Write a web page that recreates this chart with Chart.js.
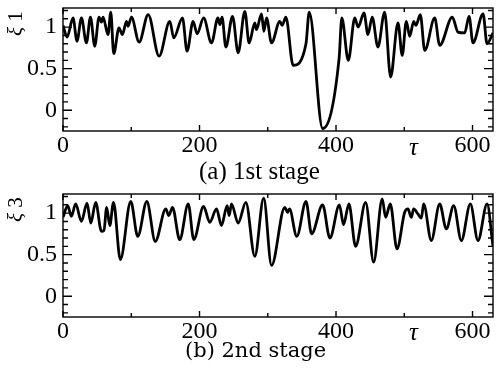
<!DOCTYPE html>
<html>
<head>
<meta charset="utf-8">
<script src="https://cdn.jsdelivr.net/npm/chart.js@4/dist/chart.umd.min.js"></script>
<style>
    body { margin: 0; background: #fff; }
    #wrap { position: relative; width: 497px; height: 382px; overflow: hidden; font-family: "Liberation Serif", "Times New Roman", Times, serif; }
    canvas { position: absolute; left: 0; }
    .txt { position: absolute; white-space: nowrap; color: #000; line-height: 1; }
</style>
</head>
<body>
<div id="wrap">
    <canvas id="c1" width="497" height="160" style="top:0"></canvas>
    <canvas id="c2" width="497" height="160" style="top:186px"></canvas>
    <div class="txt" style="left:3px;top:13px;font-size:21px;transform:rotate(-90deg);transform-origin:center"><i>ξ</i> 1</div>
    <div class="txt" style="left:3px;top:199px;font-size:21px;transform:rotate(-90deg);transform-origin:center"><i>ξ</i> 3</div>
    <div class="txt" style="left:409px;top:134px;font-size:25px;font-style:italic">τ</div>
    <div class="txt" style="left:409px;top:319px;font-size:25px;font-style:italic">τ</div>
    <div class="txt" style="left:199px;top:158px;font-size:25px">(a) 1st stage</div>
    <div class="txt" style="left:185px;top:340px;font-size:21px;font-family:'DejaVu Serif',serif">(b) 2nd stage</div>
</div>
<script>
"use strict";

// stage 1: tau / xi_1 (peaks and troughs)
var tau1 = [0, 6, 14.7, 20.5, 27, 34.3, 40.2, 46.5, 52.8, 56.3, 58.7, 66, 70, 74.3, 82, 87, 93, 95.3,
    100.3, 111.5, 124.8, 140.8, 156.5, 162.3, 175, 181.8, 190.6, 196.5, 206, 217.6, 227, 229.8, 233,
    238.6, 248.4, 256.6, 266.4, 272.7, 281, 283.4, 290.9, 294.3, 298.2, 305.5, 317.7, 321, 326.5,
    337.2, 356, 360.7, 380.4, 404.5, 408.5, 418, 427.5, 432.3, 441, 446.8, 453, 461.4, 471.2, 480,
    490.8, 497, 503, 508, 513.8, 517, 523.5, 530, 544.6, 551.9, 570.4, 578.7, 588.5, 594.9, 600.7,
    615.4, 621.3, 630];
var xi1 = [1.02, 0.88, 1.11, 0.83, 1.11, 0.81, 1.12, 0.77, 1.12, 1.06, 1.12, 0.91, 1.18, 0.68, 0.99, 0.91, 1.07, 1.01,
    1.12, 0.82, 1.15, 0.65, 1.07, 0.87, 1.11, 0.71, 1.07, 0.92, 1.11, 0.81, 1.11, 1.03, 1.12,
    0.76, 1.13, 0.69, 1.19, 0.81, 1.05, 0.97, 1.16, 0.95, 1.11, 0.81, 1.07, 1.02, 1.12,
    0.54, 0.80, 1.18, -0.22, 0.62, 1.11, 0.60, 1.11, 1.0, 1.17, 0.91, 1.12, 0.76, 1.18, 0.40,
    1.05, 0.66, 1.07, 0.89, 1.07, 1.02, 1.15, 0.72, 1.11, 0.78, 1.12, 0.94, 0.93, 1.13, 0.81,
    1.16, 0.80, 0.93];

// stage 2: tau / xi_3
var tau2 = [0, 7, 12.2, 18.6, 27, 35.2, 40.7, 47.9, 56.3, 60, 64, 68.5, 74, 84, 99.3, 109.5, 122.8,
    135.2, 150.6, 155, 160.4, 171, 183.5, 191.6, 206, 215, 224.9, 232.2, 240.5, 243.4, 246.9, 256.6,
    267.9, 281, 294, 305.5, 325, 328.9, 331.8, 342.5, 356, 364.2, 380.4, 391, 405, 411, 418.9, 428.7,
    443.4, 455.1, 467.7, 472.7, 479.5, 489.3, 500.6, 505.4, 510.3, 513.8, 520, 525, 528.4, 539.6,
    551.9, 561.6, 572.4, 583.6, 596.8, 608, 621.3, 630];
var xi3 = [0.95, 1.09, 0.96, 1.11, 0.90, 1.12, 0.88, 1.13, 0.78, 0.79, 1.07, 0.85, 1.13, 0.44, 1.14, 0.72, 1.14,
    0.66, 1.05, 0.97, 1.07, 0.68, 1.11, 0.68, 1.08, 0.89, 1.05, 0.85, 1.09, 0.97, 1.11, 0.88,
    1.13, 0.48, 1.18, 0.37, 1.07, 1.01, 1.05, 0.72, 1.14, 0.75, 1.10, 0.70, 1.10, 0.86, 1.11, 0.60,
    1.13, 0.41, 1.17, 0.95, 1.11, 0.57, 1.01, 1.05, 0.95, 1.05, 0.99, 0.94, 1.11, 0.67,
    1.11, 0.81, 1.09, 0.67, 1.11, 0.67, 1.11, 0.60];

// axis ticks
var xMajor = [0, 200, 400, 600];
var xMinor = [100, 300, 500];
var yMajor = [0, 0.5, 1];
var yMinor = [-0.2, -0.1, 0.1, 0.2, 0.3, 0.4, 0.6, 0.7, 0.8, 0.9, 1.1, 1.2];

var serif = '"Liberation Serif", "Times New Roman", Times, serif';

var frameTicks = {
    id: 'frameTicks',
    afterDraw: function (chart) {
        var ctx = chart.ctx;
        var a = chart.chartArea;
        var xs = chart.scales.x;
        var ys = chart.scales.y;
        ctx.save();
        ctx.strokeStyle = '#000';
        ctx.lineWidth = 1.4;
        ctx.strokeRect(a.left, a.top, a.right - a.left, a.bottom - a.top);
        ctx.beginPath();
        function xTick(v, len) {
            var px = xs.getPixelForValue(v);
            ctx.moveTo(px, a.bottom); ctx.lineTo(px, a.bottom - len);
            ctx.moveTo(px, a.top); ctx.lineTo(px, a.top + len);
        }
        function yTick(v, len) {
            var py = ys.getPixelForValue(v);
            ctx.moveTo(a.left, py); ctx.lineTo(a.left + len, py);
            ctx.moveTo(a.right, py); ctx.lineTo(a.right - len, py);
        }
        xMajor.forEach(function (v) { xTick(v, 6); });
        xMinor.forEach(function (v) { xTick(v, 4); });
        yMajor.forEach(function (v) { yTick(v, 9); });
        yMinor.forEach(function (v) { yTick(v, 5); });
        ctx.stroke();
        ctx.restore();
    }
};

function makeChart(id, tau, xi) {
    var pts = tau.map(function (t, i) { return {x: t, y: xi[i]}; });
    return new Chart(document.getElementById(id), {
        type: 'line',
        data: {
            datasets: [{
                data: pts,
                borderColor: '#000',
                borderWidth: 2.8,
                pointRadius: 0,
                fill: false,
                cubicInterpolationMode: 'monotone'
            }]
        },
        options: {
            responsive: false,
            animation: false,
            events: [],
            layout: {padding: {top: 8, right: 4, left: 0, bottom: 0}},
            plugins: {legend: {display: false}, tooltip: {enabled: false}},
            scales: {
                x: {
                    type: 'linear',
                    min: 0,
                    max: 630,
                    grid: {display: false, drawTicks: false},
                    border: {display: false},
                    afterBuildTicks: function (s) { s.ticks = xMajor.map(function (v) { return {value: v}; }); },
                    afterFit: function (s) {
                        s.height = 29;
                        s.paddingLeft = 0;
                        s.paddingRight = 0;
                    },
                    ticks: {
                        padding: 0,
                        maxRotation: 0,
                        autoSkip: false,
                        color: '#000',
                        font: {family: serif, size: 24}
                    }
                },
                y: {
                    min: -0.25,
                    max: 1.23,
                    grid: {display: false, drawTicks: false},
                    border: {display: false},
                    afterBuildTicks: function (s) { s.ticks = yMajor.map(function (v) { return {value: v}; }); },
                    afterFit: function (s) {
                        s.width = 63;
                        s.paddingTop = 0;
                        s.paddingBottom = 0;
                    },
                    ticks: {
                        padding: 6,
                        color: '#000',
                        font: {family: serif, size: 24},
                        callback: function (v) { return String(v); }
                    }
                }
            }
        },
        plugins: [frameTicks]
    });
}

makeChart('c1', tau1, xi1);
makeChart('c2', tau2, xi3);
</script>
</body>
</html>
